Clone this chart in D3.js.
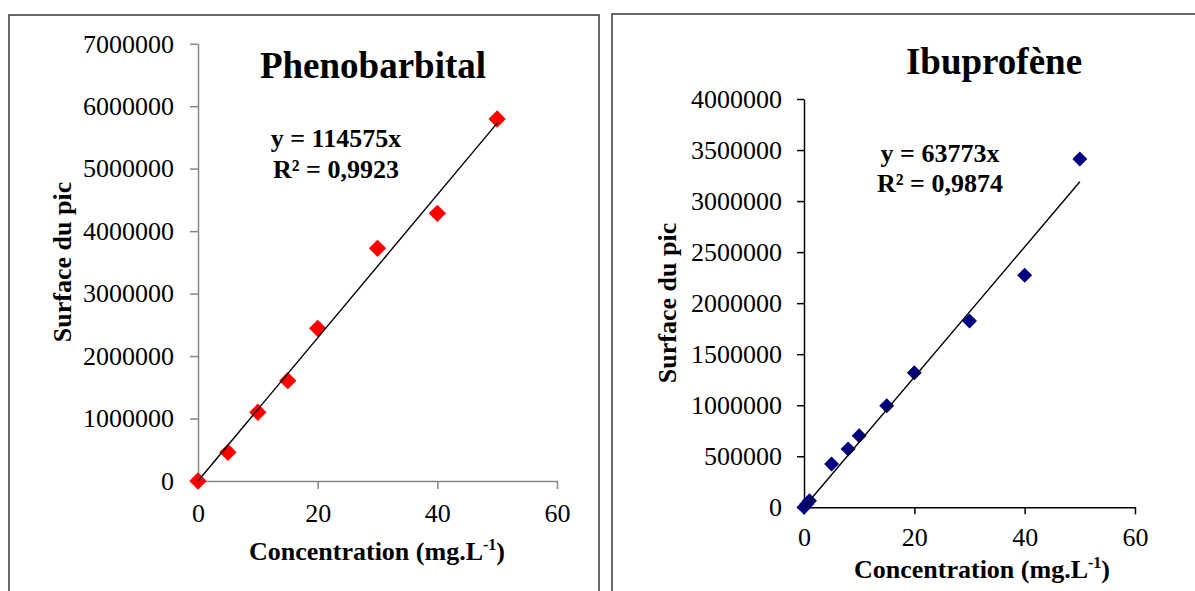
<!DOCTYPE html>
<html>
<head>
<meta charset="utf-8">
<script src="https://cdn.jsdelivr.net/npm/d3@7"></script>
<style>
  body { margin: 0; background: #fff; }
  svg { display: block; font-family: "Liberation Serif", serif; }
  svg text { font-family: "Liberation Serif", serif; }
</style>
</head>
<body>
<svg width="1195" height="591"></svg>
<script>
// Phenobarbital calibration points
var phenoConc = [0, 5, 10, 15, 20, 30, 40, 50];
var phenoArea = [0, 459000, 1100000, 1606000, 2444000, 3725000, 4285000, 5795000];
var phenoSlope = 114575;
var phenoR2 = '0,9923';
var phenoYTicks = [0, 1000000, 2000000, 3000000, 4000000, 5000000, 6000000, 7000000];

// Ibuprofene calibration points
var ibuConc = [0, 0.5, 1, 5, 8, 10, 15, 20, 30, 40, 50];
var ibuArea = [0, 32000, 64000, 424000, 571000, 701000, 995000, 1318000, 1825000, 2273000, 3412000];
var ibuSlope = 63773;
var ibuR2 = '0,9874';
var ibuYTicks = [0, 500000, 1000000, 1500000, 2000000, 2500000, 3000000, 3500000, 4000000];

var xTicks = [0, 20, 40, 60];

var svg = d3.select('svg');

function drawChart(cfg) {
    var g = svg.append('g');

    // chart frame (bottom runs off the page)
    g.append('rect')
        .attr('x', cfg.frame[0])
        .attr('y', cfg.frame[1])
        .attr('width', cfg.frame[2])
        .attr('height', 700)
        .attr('fill', 'none')
        .attr('stroke', '#444')
        .attr('stroke-width', 1.6);

    var x = d3.scaleLinear().domain([0, 60]).range([cfg.x0, cfg.x1]);
    var y = d3.scaleLinear().domain([0, cfg.yMax]).range([cfg.y0, cfg.y1]);

    var yAxis = d3.axisLeft(y)
        .tickValues(cfg.yTicks)
        .tickFormat(d3.format('d'))
        .tickSize(cfg.tick)
        .tickSizeOuter(0)
        .tickPadding(cfg.yPad);
    var yG = g.append('g')
        .attr('transform', 'translate(' + cfg.x0 + ',0)')
        .call(yAxis);

    var xAxis = d3.axisBottom(x)
        .tickValues(xTicks)
        .tickSize(cfg.tick)
        .tickSizeOuter(0)
        .tickPadding(cfg.xPad);
    var xG = g.append('g')
        .attr('transform', 'translate(0,' + cfg.y0 + ')')
        .call(xAxis);

    [xG, yG].forEach(function(a) {
        a.attr('font-family', null);
        a.selectAll('path, line')
            .attr('stroke', cfg.axisColor)
            .attr('stroke-width', 1.5);
        a.selectAll('text')
            .attr('font-size', 26)
            .attr('fill', '#000');
    });

    var pts = cfg.conc.map(function(c, i) { return {c: c, a: cfg.area[i]}; });

    var marker = d3.symbol().type(d3.symbolSquare).size(cfg.markerSize);
    g.selectAll('.pt')
        .data(pts)
        .enter().append('path')
        .attr('class', 'pt')
        .attr('d', marker)
        .attr('transform', function(d) {
            return 'translate(' + x(d.c) + ',' + y(d.a) + ') rotate(45)';
        })
        .attr('fill', cfg.color);

    // linear trend through origin, over 0..50
    var line = d3.line()
        .x(function(d) { return x(d); })
        .y(function(d) { return y(d * cfg.slope); });
    g.append('path')
        .datum([0, 50])
        .attr('d', line)
        .attr('fill', 'none')
        .attr('stroke', '#000')
        .attr('stroke-width', 1.4);

    // title
    g.append('text')
        .attr('x', cfg.title[1])
        .attr('y', cfg.title[2])
        .attr('text-anchor', 'middle')
        .attr('font-weight', 'bold')
        .attr('font-size', 37)
        .text(cfg.title[0]);

    // equation and R²
    g.append('text')
        .attr('x', cfg.eq[0])
        .attr('y', cfg.eq[1])
        .attr('text-anchor', 'middle')
        .attr('font-weight', 'bold')
        .attr('font-size', 26)
        .text('y = ' + cfg.slope + 'x');
    g.append('text')
        .attr('x', cfg.eq[0])
        .attr('y', cfg.eq[2])
        .attr('text-anchor', 'middle')
        .attr('font-weight', 'bold')
        .attr('font-size', 26)
        .text('R² = ' + cfg.r2);

    // axis titles
    var xl = g.append('text')
        .attr('x', cfg.xLabel[0])
        .attr('y', cfg.xLabel[1])
        .attr('text-anchor', 'middle')
        .attr('font-weight', 'bold')
        .attr('font-size', 26);
    xl.append('tspan').text('Concentration (mg.L');
    xl.append('tspan').attr('font-size', 16).attr('dy', -10).text('-1');
    xl.append('tspan').attr('dy', 10).text(')');

    g.append('text')
        .attr('transform', 'translate(' + cfg.yLabel[0] + ',' + cfg.yLabel[1] + ') rotate(-90)')
        .attr('text-anchor', 'middle')
        .attr('font-weight', 'bold')
        .attr('font-size', 26)
        .text('Surface du pic');
}

drawChart({
    frame: [9, 15, 590],
    x0: 198, x1: 557, y0: 481, y1: 43.7,
    yMax: 7000000, yTicks: phenoYTicks,
    tick: 8, yPad: 16, xPad: 14.5,
    axisColor: '#868686',
    conc: phenoConc, area: phenoArea,
    markerSize: 150, color: '#ff0000',
    slope: phenoSlope, r2: phenoR2,
    title: ['Phenobarbital', 373, 78],
    eq: [336, 147, 178],
    xLabel: [377, 560],
    yLabel: [71, 262]
});

drawChart({
    frame: [612, 14, 620],
    x0: 804, x1: 1135, y0: 507.3, y1: 99,
    yMax: 4000000, yTicks: ibuYTicks,
    tick: 7, yPad: 15, xPad: 13.5,
    axisColor: '#000',
    conc: ibuConc, area: ibuArea,
    markerSize: 112, color: '#000080',
    slope: ibuSlope, r2: ibuR2,
    title: ['Ibuprofène', 994, 74],
    eq: [940, 162, 192],
    xLabel: [982, 578],
    yLabel: [676, 303]
});
</script>
</body>
</html>
